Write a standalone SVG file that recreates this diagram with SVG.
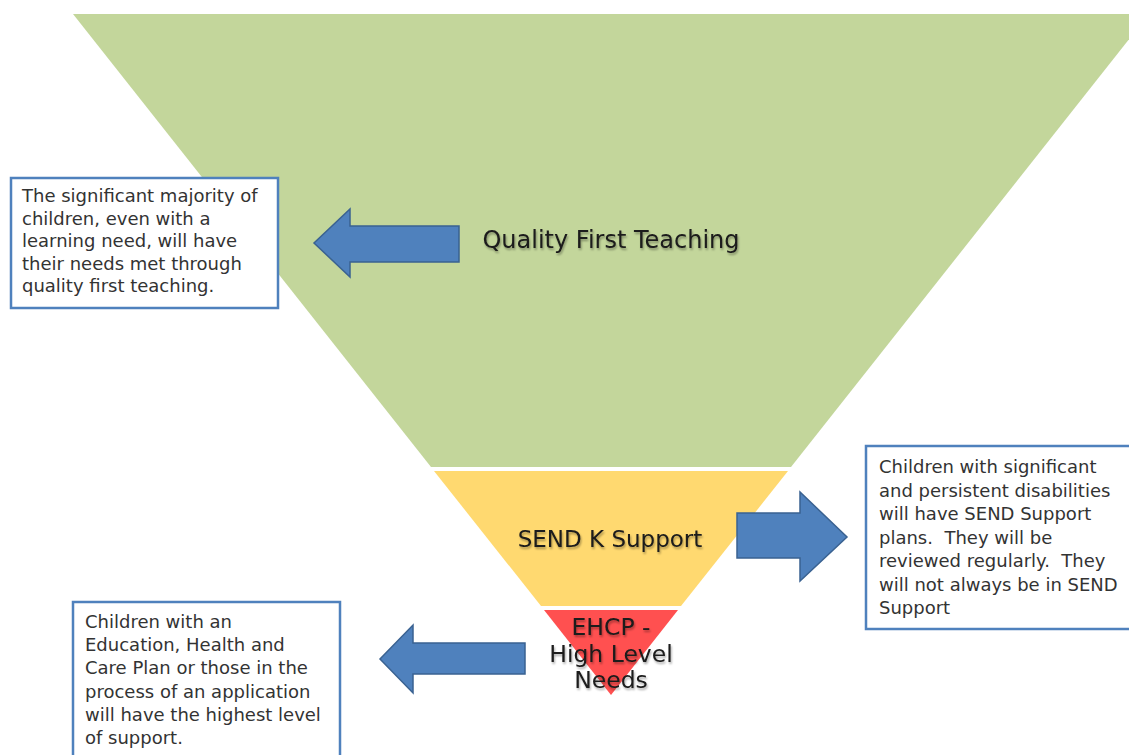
<svg xmlns="http://www.w3.org/2000/svg" width="1129" height="755" viewBox="0 0 1129 755">
<defs>
<filter id="soft" x="-10%" y="-30%" width="120%" height="160%">
<feGaussianBlur in="SourceAlpha" stdDeviation="1"/>
<feOffset dx="1" dy="1.5" result="b"/>
<feComponentTransfer><feFuncA type="linear" slope="0.35"/></feComponentTransfer>
<feMerge><feMergeNode/><feMergeNode in="SourceGraphic"/></feMerge>
</filter>
<style>
.lvl{font-family:"DejaVu Sans","Liberation Sans",sans-serif;fill:#1a1a1a;text-anchor:middle;filter:url(#soft)}
.note{font-family:"DejaVu Sans","Liberation Sans",sans-serif;fill:#333;font-size:18px;white-space:pre}
.box{fill:#fff;stroke:#4F81BD;stroke-width:2.5}
.arrow{fill:#4F81BD;stroke:#3A6291;stroke-width:1.5}
</style>
</defs>
<rect width="1129" height="755" fill="#fff"/>
<g id="level-qft">
<polygon points="73,14 1149,14 791,467 431,467" fill="#C3D69B"/>
<text class="lvl" x="611" y="248" font-size="24">Quality First Teaching</text>
</g>
<g id="level-send">
<polygon points="434,471 788,471 681,606 541,606" fill="#FFD970"/>
<text class="lvl" x="610" y="547" font-size="23">SEND K Support</text>
</g>
<g id="level-ehcp">
<polygon points="544,610 678,610 611,695" fill="#FF5050"/>
<text class="lvl" x="611" y="635" font-size="23.5">EHCP -</text>
<text class="lvl" x="611" y="662" font-size="23.5">High Level</text>
<text class="lvl" x="611" y="688" font-size="23.5">Needs</text>
</g>
<g id="note-qft">
<rect class="box" x="11" y="178" width="267" height="130"/>
<text class="note"><tspan x="22" y="202">The significant majority of</tspan><tspan x="22" y="224.5">children, even with a</tspan><tspan x="22" y="247">learning need, will have</tspan><tspan x="22" y="269.5">their needs met through</tspan><tspan x="22" y="292">quality first teaching.</tspan></text>
</g>
<g id="note-send">
<rect class="box" x="866" y="446" width="270" height="183"/>
<text class="note"><tspan x="879" y="473">Children with significant</tspan><tspan x="879" y="496.5">and persistent disabilities</tspan><tspan x="879" y="520">will have SEND Support</tspan><tspan x="879" y="543.5">plans.  They will be</tspan><tspan x="879" y="567">reviewed regularly.  They</tspan><tspan x="879" y="590.5">will not always be in SEND</tspan><tspan x="879" y="614">Support</tspan></text>
</g>
<g id="note-ehcp">
<rect class="box" x="73" y="602" width="267" height="170"/>
<text class="note"><tspan x="85" y="628">Children with an</tspan><tspan x="85" y="651">Education, Health and</tspan><tspan x="85" y="674">Care Plan or those in the</tspan><tspan x="85" y="698">process of an application</tspan><tspan x="85" y="721">will have the highest level</tspan><tspan x="85" y="744">of support.</tspan></text>
</g>
<g id="connectors">
<polygon class="arrow" points="459,226 350,226 350,209 314,243 350,277 350,262 459,262"/>
<polygon class="arrow" points="737,513 800,513 800,492 847,537 800,581 800,558 737,558"/>
<polygon class="arrow" points="525,643 413,643 413,625 380,659 413,693 413,674 525,674"/>
</g>
</svg>
